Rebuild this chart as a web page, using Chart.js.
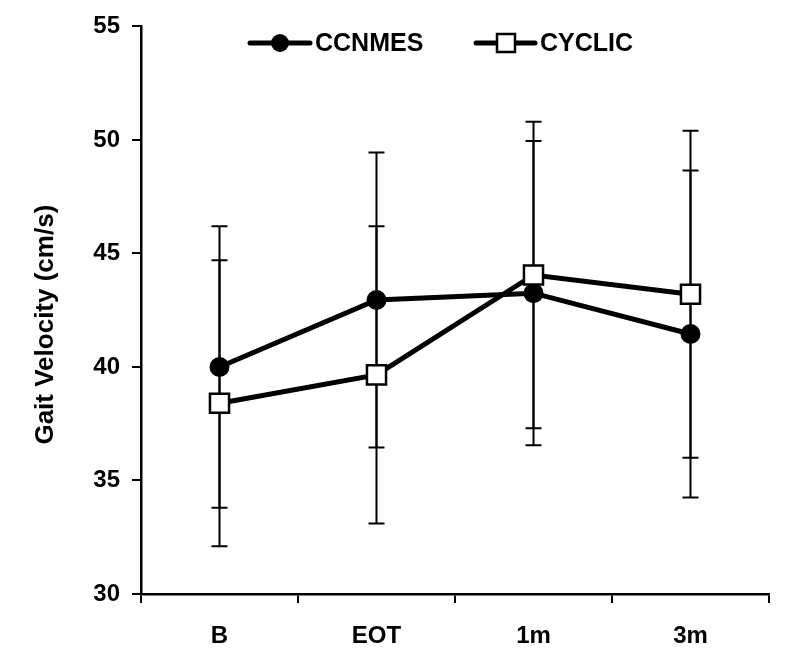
<!DOCTYPE html>
<html>
<head>
<meta charset="utf-8">
<script src="https://cdn.jsdelivr.net/npm/chart.js@4.4.1/dist/chart.umd.min.js"></script>
<style>
  html, body { margin: 0; padding: 0; background: #ffffff; }
  #wrap { width: 800px; height: 658px; position: relative; }
</style>
</head>
<body>
<div id="wrap"><canvas id="c" width="800" height="658"></canvas></div>
<script>
const categories = ['B', 'EOT', '1m', '3m'];
const ccnmesMean = [40.0, 42.95, 43.25, 41.45];
const ccnmesSD   = [6.2, 6.5, 6.7, 7.2];
const cyclicMean = [38.4, 39.65, 44.05, 43.2];
const cyclicSD   = [6.3, 6.55, 6.75, 7.2];
const yTicks = [30, 35, 40, 45, 50, 55];

const FONT = '"Liberation Sans", Arial, Helvetica, sans-serif';

const errorBars = {
  id: 'errorBars',
  beforeDatasetsDraw(chart) {
    const ctx = chart.ctx;
    const y = chart.scales.y;
    ctx.save();
    ctx.strokeStyle = '#000';
    ctx.lineWidth = 2;
    chart.data.datasets.forEach((ds, di) => {
      const meta = chart.getDatasetMeta(di);
      ds.data.forEach((v, i) => {
        const sd = ds.sd[i];
        const px = meta.data[i].x;
        const yt = y.getPixelForValue(v + sd);
        const yb = y.getPixelForValue(v - sd);
        ctx.beginPath();
        ctx.moveTo(px, yt); ctx.lineTo(px, yb);
        ctx.moveTo(px - 8, yt); ctx.lineTo(px + 8, yt);
        ctx.moveTo(px - 8, yb); ctx.lineTo(px + 8, yb);
        ctx.stroke();
      });
    });
    ctx.restore();
  }
};

const customLegend = {
  id: 'customLegend',
  afterDraw(chart) {
    const ctx = chart.ctx;
    ctx.save();
    const cy = 43;
    ctx.strokeStyle = '#000';
    ctx.lineWidth = 5;
    ctx.lineCap = 'round';
    // CCNMES
    ctx.beginPath(); ctx.moveTo(250, cy); ctx.lineTo(310, cy); ctx.stroke();
    ctx.fillStyle = '#000';
    ctx.beginPath(); ctx.arc(280, cy, 9, 0, Math.PI * 2); ctx.fill();
    // CYCLIC
    ctx.beginPath(); ctx.moveTo(476, cy); ctx.lineTo(535, cy); ctx.stroke();
    ctx.lineWidth = 2.5;
    ctx.fillStyle = '#fff';
    ctx.fillRect(497, cy - 9, 18, 18);
    ctx.strokeRect(497, cy - 9, 18, 18);
    ctx.fillStyle = '#000';
    ctx.font = 'bold 25px ' + FONT;
    ctx.textBaseline = 'middle';
    ctx.textAlign = 'left';
    ctx.fillText('CCNMES', 315, cy + 1);
    ctx.fillText('CYCLIC', 540, cy + 1);
    ctx.restore();
  }
};

new Chart(document.getElementById('c'), {
  type: 'line',
  data: {
    labels: categories,
    datasets: [
      {
        label: 'CCNMES',
        data: ccnmesMean,
        sd: ccnmesSD,
        borderColor: '#000',
        borderWidth: 5,
        pointStyle: 'circle',
        pointRadius: 10,
        pointBackgroundColor: '#000',
        pointBorderColor: '#000',
        pointBorderWidth: 0,
        tension: 0,
        order: 1
      },
      {
        label: 'CYCLIC',
        data: cyclicMean,
        sd: cyclicSD,
        borderColor: '#000',
        borderWidth: 5,
        pointStyle: 'rect',
        pointRadius: 13.5,
        pointBackgroundColor: '#fff',
        pointBorderColor: '#000',
        pointBorderWidth: 2.5,
        tension: 0,
        order: 0
      }
    ]
  },
  options: {
    responsive: false,
    animation: false,
    events: [],
    layout: { padding: { top: 24, right: 31, left: 0, bottom: 0 } },
    plugins: { legend: { display: false }, tooltip: { enabled: false } },
    scales: {
      x: {
        type: 'category',
        offset: true,
        grid: { offset: true, drawOnChartArea: false, drawTicks: true, tickLength: 9, color: '#000', lineWidth: 2 },
        border: { display: true, color: '#000', width: 2.5 },
        ticks: { color: '#000', font: { family: FONT, size: 24, weight: 'bold' }, padding: 19, maxRotation: 0 },
        afterFit(scale) { scale.height = 64; }
      },
      y: {
        min: 30,
        max: 55,
        afterBuildTicks(scale) { scale.ticks = yTicks.map(v => ({ value: v })); },
        grid: { drawOnChartArea: false, drawTicks: true, tickLength: 9, color: '#000', lineWidth: 2 },
        border: { display: true, color: '#000', width: 2.5 },
        ticks: { color: '#000', font: { family: FONT, size: 24, weight: 'bold' }, padding: 12 },
        title: { display: true, text: 'Gait Velocity (cm/s)    ', color: '#000', font: { family: FONT, size: 26, weight: 'bold' }, padding: { top: 30, bottom: 0 } },
        afterFit(scale) { scale.width = 141; }
      }
    }
  },
  plugins: [errorBars, customLegend]
});
</script>
</body>
</html>
